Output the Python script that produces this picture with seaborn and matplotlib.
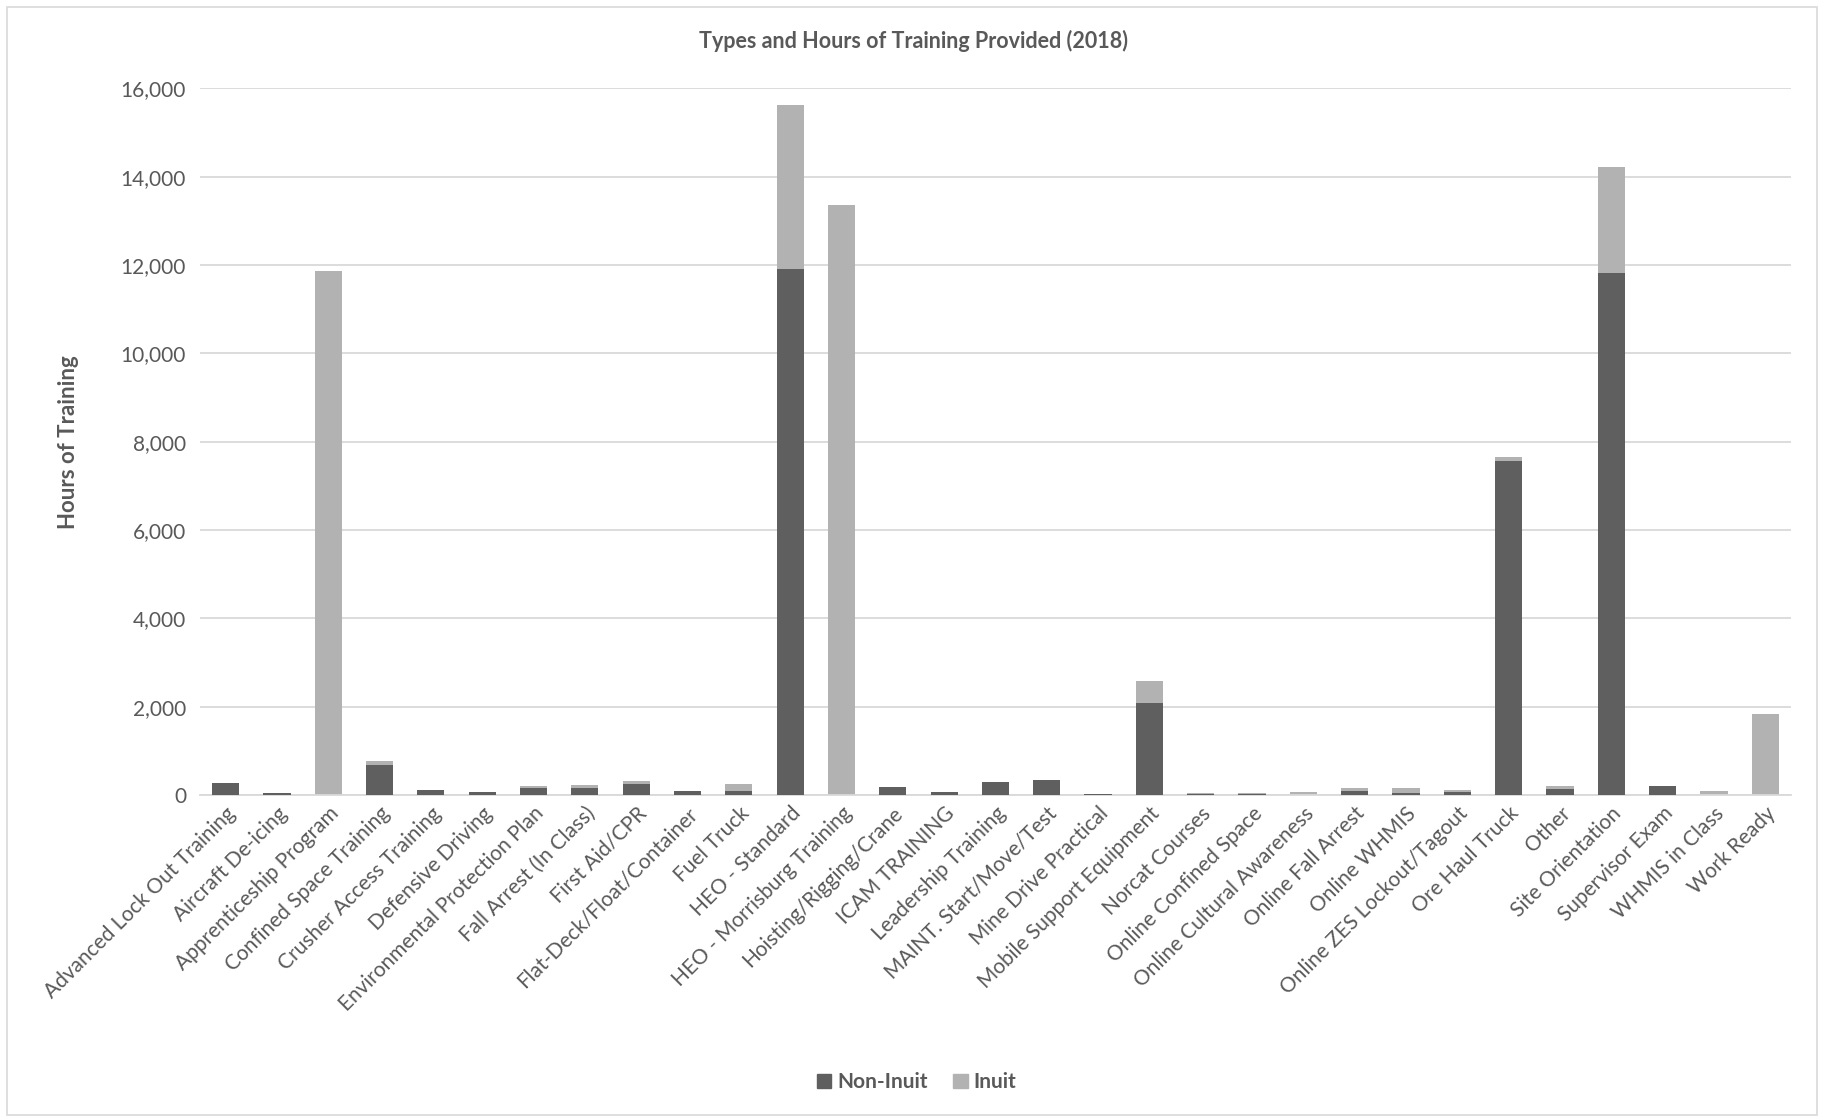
import matplotlib
matplotlib.use("Agg")
import matplotlib.pyplot as plt
import matplotlib.patches as mpatches
import numpy as np
import pandas as pd
import seaborn as sns

categories = [
    "Advanced Lock Out Training", "Aircraft De-icing", "Apprenticeship Program",
    "Confined Space Training", "Crusher Access Training", "Defensive Driving",
    "Environmental Protection Plan", "Fall Arrest (In Class)", "First Aid/CPR",
    "Flat-Deck/Float/Container", "Fuel Truck", "HEO - Standard",
    "HEO - Morrisburg Training", "Hoisting/Rigging/Crane", "ICAM TRAINING",
    "Leadership Training", "MAINT. Start/Move/Test", "Mine Drive Practical",
    "Mobile Support Equipment", "Norcat Courses", "Online Confined Space",
    "Online Cultural Awareness", "Online Fall Arrest", "Online WHMIS",
    "Online ZES Lockout/Tagout", "Ore Haul Truck", "Other", "Site Orientation",
    "Supervisor Exam", "WHMIS in Class", "Work Ready",
]
non_inuit = [
    260, 40, 0, 690, 110, 75, 165, 150, 255, 90, 100, 11910,
    0, 170, 70, 285, 330, 20, 2085, 30, 15, 0, 100, 50,
    60, 7565, 140, 11820, 200, 0, 0,
]
inuit = [
    0, 10, 11860, 70, 0, 0, 40, 75, 60, 0, 150, 3720,
    13370, 0, 0, 0, 0, 10, 500, 10, 35, 75, 50, 110,
    60, 80, 55, 2410, 0, 90, 1845,
]

dark = "#5f5f5f"
light = "#b2b2b2"
text_col = "#595959"

plt.rcParams["font.family"] = ["Lato", "DejaVu Sans"]

df = pd.DataFrame({"category": categories, "Non-Inuit": non_inuit, "Inuit": inuit})
df["total"] = df["Non-Inuit"] + df["Inuit"]

fig = plt.figure(figsize=(18.26, 11.17), dpi=100)
ax = fig.add_axes([0.1095, 0.2883, 0.8713, 0.6325])

# total bar in light, non-Inuit drawn over it -> stacked look
sns.barplot(data=df, x="category", y="total", color=light, width=0.53,
            saturation=1, ax=ax, zorder=2, linewidth=0)
sns.barplot(data=df, x="category", y="Non-Inuit", color=dark, width=0.53,
            saturation=1, ax=ax, zorder=3, linewidth=0)

ax.set_ylim(0, 16000)
ax.set_xlim(-0.5, len(categories) - 0.5)
ax.set_yticks(np.arange(0, 16001, 2000))
ax.set_yticklabels([f"{v:,}" for v in range(0, 16001, 2000)], fontsize=15, color=text_col)
ax.yaxis.grid(True, color="#d9d9d9", linewidth=1.3, zorder=0)
ax.set_axisbelow(True)
for s in ["top", "right", "left"]:
    ax.spines[s].set_visible(False)
ax.spines["bottom"].set_color("#d9d9d9")
ax.spines["bottom"].set_linewidth(1.3)
ax.tick_params(axis="both", length=0, pad=10)
ax.set_xticks(range(len(categories)))
ax.set_xticklabels(categories, rotation=45, ha="right", rotation_mode="anchor",
                   fontsize=15, color=text_col)
ax.tick_params(axis="x", pad=6)
ax.set_xlabel("")
ax.set_ylabel("Hours of Training", fontsize=16, fontweight="bold", color=text_col, labelpad=30)

fig.text(0.5, 0.963, "Types and Hours of Training Provided (2018)", ha="center",
         va="center", fontsize=15.5, fontweight="bold", color=text_col)

handles = [mpatches.Patch(color=dark, label="Non-Inuit"),
           mpatches.Patch(color=light, label="Inuit")]
fig.legend(handles=handles, loc="center", bbox_to_anchor=(0.502, 0.031), ncol=2,
           frameon=False, prop={"size": 15, "weight": "bold"}, labelcolor=text_col,
           handlelength=0.7, handleheight=0.7, handletextpad=0.3, columnspacing=1.2)

fig.add_artist(mpatches.Rectangle((0.004, 0.002), 0.991, 0.992, transform=fig.transFigure,
                                  fill=False, edgecolor="#d9d9d9", linewidth=1.2))

fig.savefig("out.png", dpi=100)
